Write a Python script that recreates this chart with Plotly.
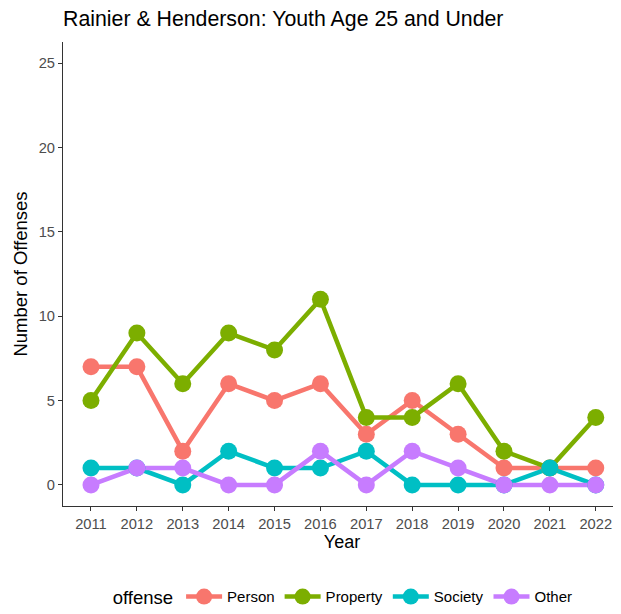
import plotly.graph_objects as go

years = [2011, 2012, 2013, 2014, 2015, 2016, 2017, 2018, 2019, 2020, 2021, 2022]
person = [7, 7, 2, 6, 5, 6, 3, 5, 3, 1, 1, 1]
property_ = [5, 9, 6, 9, 8, 11, 4, 4, 6, 2, 1, 4]
society = [1, 1, 0, 2, 1, 1, 2, 0, 0, 0, 1, 0]
other = [0, 1, 1, 0, 0, 2, 0, 2, 1, 0, 0, 0]

series = [
    ("Person", person, "#F8766D"),
    ("Property", property_, "#7CAE00"),
    ("Society", society, "#00BFC4"),
    ("Other", other, "#C77CFF"),
]

font = "Liberation Sans, Arial, sans-serif"
# the page body has an 8px margin, so the figure is drawn 8px smaller
W, H, PAD = 621 - 8, 614 - 8, 8

fig = go.Figure()

# lines first, then points on top (like geom_line + geom_point)
for name, vals, col in series:
    fig.add_trace(go.Scatter(x=years, y=vals, mode="lines", line=dict(color=col, width=4.5),
                             showlegend=False, hoverinfo="skip"))
for name, vals, col in series:
    fig.add_trace(go.Scatter(x=years, y=vals, mode="markers", name=name,
                             marker=dict(color=col, size=17), showlegend=False))
# legend keys
for name, vals, col in series:
    fig.add_trace(go.Scatter(x=[None], y=[None], mode="lines+markers", name=name,
                             line=dict(color=col, width=4.5), marker=dict(color=col, size=16)))

axis_common = dict(
    showline=True, linecolor="#333333", linewidth=1.1,
    ticks="outside", ticklen=4, tickcolor="#333333",
    showgrid=False, zeroline=False, automargin=False,
    tickfont=dict(family=font, size=14.7, color="#4D4D4D"),
)

fig.update_layout(
    width=W, height=H,
    margin=dict(l=63 - PAD, r=0, t=42 - PAD, b=108, autoexpand=False),
    plot_bgcolor="white", paper_bgcolor="white",
    font=dict(family=font, color="black"),
    title=dict(text="Rainier & Henderson: Youth Age 25 and Under", x=(63 - PAD) / W, xref="container",
               y=1 - (18.5 - PAD) / H, yref="container", yanchor="middle", xanchor="left",
               font=dict(size=21.3, family=font, color="black"), automargin=False),
    xaxis=dict(title=dict(text="Year", font=dict(size=18, family=font, color="black"), standoff=4),
               tickmode="array", tickvals=years, ticktext=[str(y) for y in years],
               range=[2010.39, 2022.55], **axis_common),
    yaxis=dict(title=dict(text="Number of Offenses", font=dict(size=18.5, family=font, color="black"), standoff=6),
               tickvals=[0, 5, 10, 15, 20, 25], range=[-1.25, 26.25], **axis_common),
    legend=dict(orientation="h", x=0.504, xanchor="center", y=-0.198, yanchor="middle",
                title=dict(text="offense", font=dict(size=18.5, family=font, color="black")),
                font=dict(size=15, family=font, color="black"), itemwidth=36),
)

fig.write_html("out.html")
